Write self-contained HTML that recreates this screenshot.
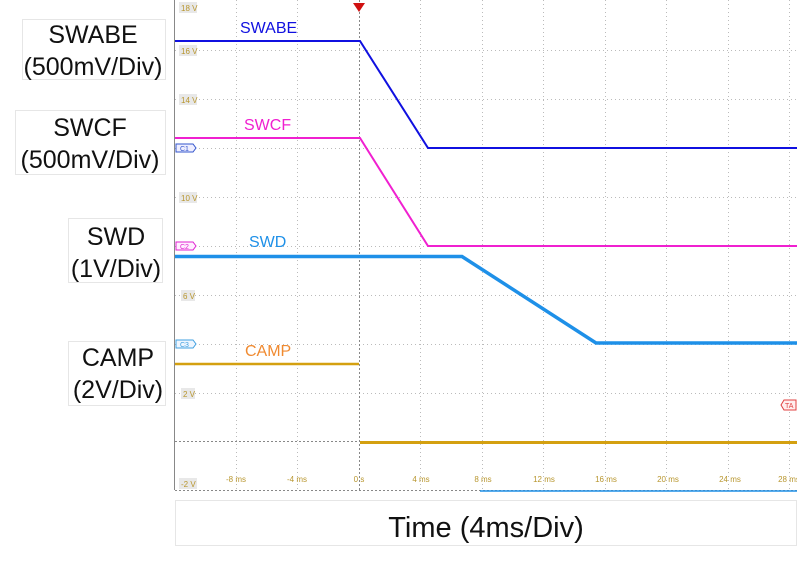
<!DOCTYPE html><html><head><style>body{margin:0;background:#fff}svg{display:block}</style></head><body>
<svg width="797" height="564" xmlns="http://www.w3.org/2000/svg" font-family="Liberation Sans, sans-serif">
<rect width="797" height="564" fill="#fff"/>
<g fill="none" stroke="#e6e6e6" stroke-width="1">
<rect x="22.5" y="19.5" width="143" height="60"/>
<rect x="15.5" y="110.5" width="150" height="64"/>
<rect x="68.5" y="218.5" width="94" height="64"/>
<rect x="68.5" y="341.5" width="97" height="64"/>
<rect x="175.5" y="500.5" width="621" height="45"/>
</g>
<g font-size="25" fill="#111" text-anchor="middle">
<text x="93" y="43">SWABE</text><text x="93" y="75">(500mV/Div)</text>
<text x="90" y="136">SWCF</text><text x="90" y="168">(500mV/Div)</text>
<text x="116" y="245">SWD</text><text x="116" y="277">(1V/Div)</text>
<text x="118" y="366">CAMP</text><text x="118" y="398">(2V/Div)</text>
<text x="486" y="537" font-size="29">Time (4ms/Div)</text>
</g>
<g stroke="#bbb" stroke-width="1" stroke-dasharray="1,3">
<line x1="236.5" y1="0" x2="236.5" y2="490"/><line x1="297.5" y1="0" x2="297.5" y2="490"/>
<line x1="420.5" y1="0" x2="420.5" y2="490"/><line x1="482.5" y1="0" x2="482.5" y2="490"/><line x1="543.5" y1="0" x2="543.5" y2="490"/><line x1="605.5" y1="0" x2="605.5" y2="490"/><line x1="666.5" y1="0" x2="666.5" y2="490"/><line x1="728.5" y1="0" x2="728.5" y2="490"/><line x1="789.5" y1="0" x2="789.5" y2="490"/>
<line x1="175" y1="50.5" x2="797" y2="50.5"/><line x1="175" y1="99.5" x2="797" y2="99.5"/><line x1="175" y1="148.5" x2="797" y2="148.5"/><line x1="175" y1="197.5" x2="797" y2="197.5"/><line x1="175" y1="246.5" x2="797" y2="246.5"/><line x1="175" y1="295.5" x2="797" y2="295.5"/><line x1="175" y1="344.5" x2="797" y2="344.5"/><line x1="175" y1="393.5" x2="797" y2="393.5"/>
</g>
<g stroke="#888" stroke-width="1">
<line x1="174.5" y1="0" x2="174.5" y2="490"/>
<line x1="359.5" y1="0" x2="359.5" y2="490" stroke-dasharray="2,2"/>
<line x1="175" y1="441.5" x2="797" y2="441.5" stroke-dasharray="2,2"/>
<line x1="175" y1="490.5" x2="797" y2="490.5" stroke-dasharray="2,2"/>
</g>
<g fill="#e8e8e8">
<rect x="179" y="2" width="18" height="11"/><rect x="179" y="45" width="18" height="11"/><rect x="179" y="94" width="18" height="11"/><rect x="179" y="192" width="18" height="11"/><rect x="181" y="290" width="14" height="11"/><rect x="181" y="388" width="14" height="11"/><rect x="179" y="478" width="18" height="11"/>
</g>
<g font-size="8" fill="#b8962e">
<text x="181" y="11">18 V</text><text x="181" y="54">16 V</text><text x="181" y="103">14 V</text><text x="181" y="201">10 V</text><text x="183" y="299">6 V</text><text x="183" y="397">2 V</text><text x="181" y="487">-2 V</text>
<g text-anchor="middle"><text x="236" y="482">-8 ms</text><text x="297" y="482">-4 ms</text><text x="359" y="482">0 s</text><text x="421" y="482">4 ms</text><text x="483" y="482">8 ms</text><text x="544" y="482">12 ms</text><text x="606" y="482">16 ms</text><text x="668" y="482">20 ms</text><text x="730" y="482">24 ms</text><text x="789" y="482">28 ms</text></g>
</g>
<path d="M353,3 L365,3 L359,12Z" fill="#d01010"/>
<g font-size="7"><path d="M176,144h17l3,4l-3,4h-17z" fill="#eef" stroke="#3355cc"/><text x="180" y="151" fill="#3355cc">C1</text>
<path d="M176,242h17l3,4l-3,4h-17z" fill="#fef" stroke="#e020d0"/><text x="180" y="249" fill="#e020d0">C2</text>
<path d="M176,340h17l3,4l-3,4h-17z" fill="#eef6ff" stroke="#40a0e0"/><text x="180" y="347" fill="#40a0e0">C3</text>
<path d="M796,400h-12l-3,5l3,5h12z" fill="#fee" stroke="#e04040"/><text x="785" y="408" fill="#e04040">TA</text></g>
<polyline points="175,41 360,41 428,148 797,148" fill="none" stroke="#1010e0" stroke-width="2"/>
<polyline points="175,138 360,138 428,246 797,246" fill="none" stroke="#f020d0" stroke-width="2"/>
<polyline points="175,256.5 462,256.5 596,343 797,343" fill="none" stroke="#1e90e8" stroke-width="3.5"/>
<line x1="175" y1="364" x2="359" y2="364" stroke="#d4a010" stroke-width="2.5"/>
<line x1="360" y1="442.5" x2="797" y2="442.5" stroke="#d4a010" stroke-width="3"/>
<line x1="480" y1="491" x2="797" y2="491" stroke="#1e90e8" stroke-width="1.5"/>
<g font-size="16">
<text x="240" y="33" fill="#1010e0">SWABE</text>
<text x="244" y="130" fill="#f020d0">SWCF</text>
<text x="249" y="247" fill="#1e90e8">SWD</text>
<text x="245" y="356" fill="#f08a30">CAMP</text>
</g>
</svg></body></html>
